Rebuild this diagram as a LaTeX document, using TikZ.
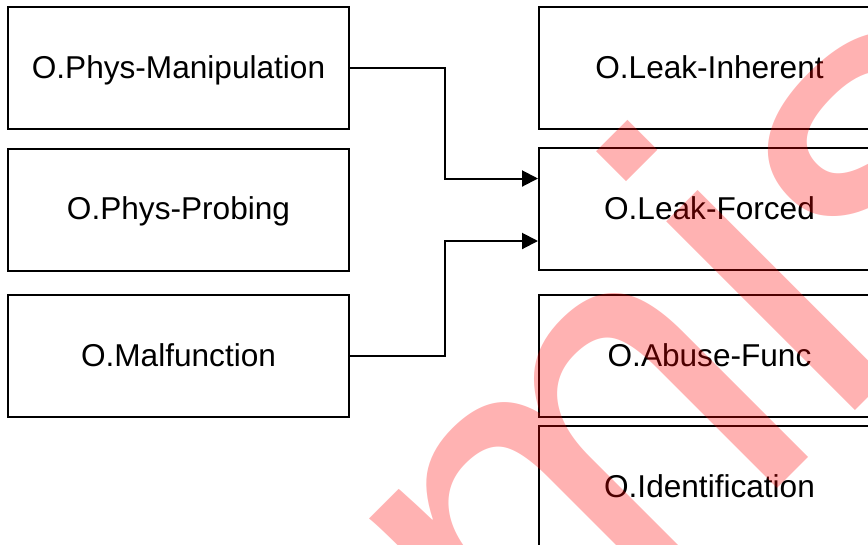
\documentclass[tikz,border=0pt]{standalone}
\usepackage{fontspec}
\setmainfont{Liberation Sans}
\usetikzlibrary{arrows.meta}
\newdimen\pxu \pxu=0.75pt
\tikzset{objbox/.style={draw, line width=1.5pt, minimum width=341\pxu,
        minimum height=122\pxu, inner sep=0pt, align=center,
        font=\fontsize{23.7}{28}\selectfont, text height=20pt, text depth=5pt},
    link/.style={line width=1.5pt, -{Triangle[length=12pt,width=12pt]}},
    wmark/.style={red, opacity=.3, inner sep=0pt,
        font=\fontsize{379}{379}\selectfont},
    }
\begin{document}
\begin{tikzpicture}[x=\pxu,y=-\pxu]
\useasboundingbox (0,0) rectangle (868,544);
\clip (0,0) rectangle (868,544);
% threats
\node[objbox] (phys) at (178.5,68) {O.Phys-Manipulation};
\node[objbox] (probe) at (178.5,209.5) {O.Phys-Probing};
\node[objbox] (malf) at (178.5,356) {O.Malfunction};
% objectives
\node[objbox] (inh) at (709.5,68) {O.Leak-Inherent};
\node[objbox] (forced) at (709.5,209) {O.Leak-Forced};
\node[objbox] (abuse) at (709.5,356) {O.Abuse-Func};
\node[objbox] (ident) at (709.5,487) {O.Identification};
% links
\draw[link] (phys.east) -- ++(95,0) |- ([yshift=30.5\pxu]forced.west);
\draw[link] (malf.east) -- ++(95,0) |- ([yshift=-32\pxu]forced.west);
% watermark
\node[wmark, rotate=45, anchor=base west] (wm) at (534,732) {mis};
\end{tikzpicture}
\end{document}
